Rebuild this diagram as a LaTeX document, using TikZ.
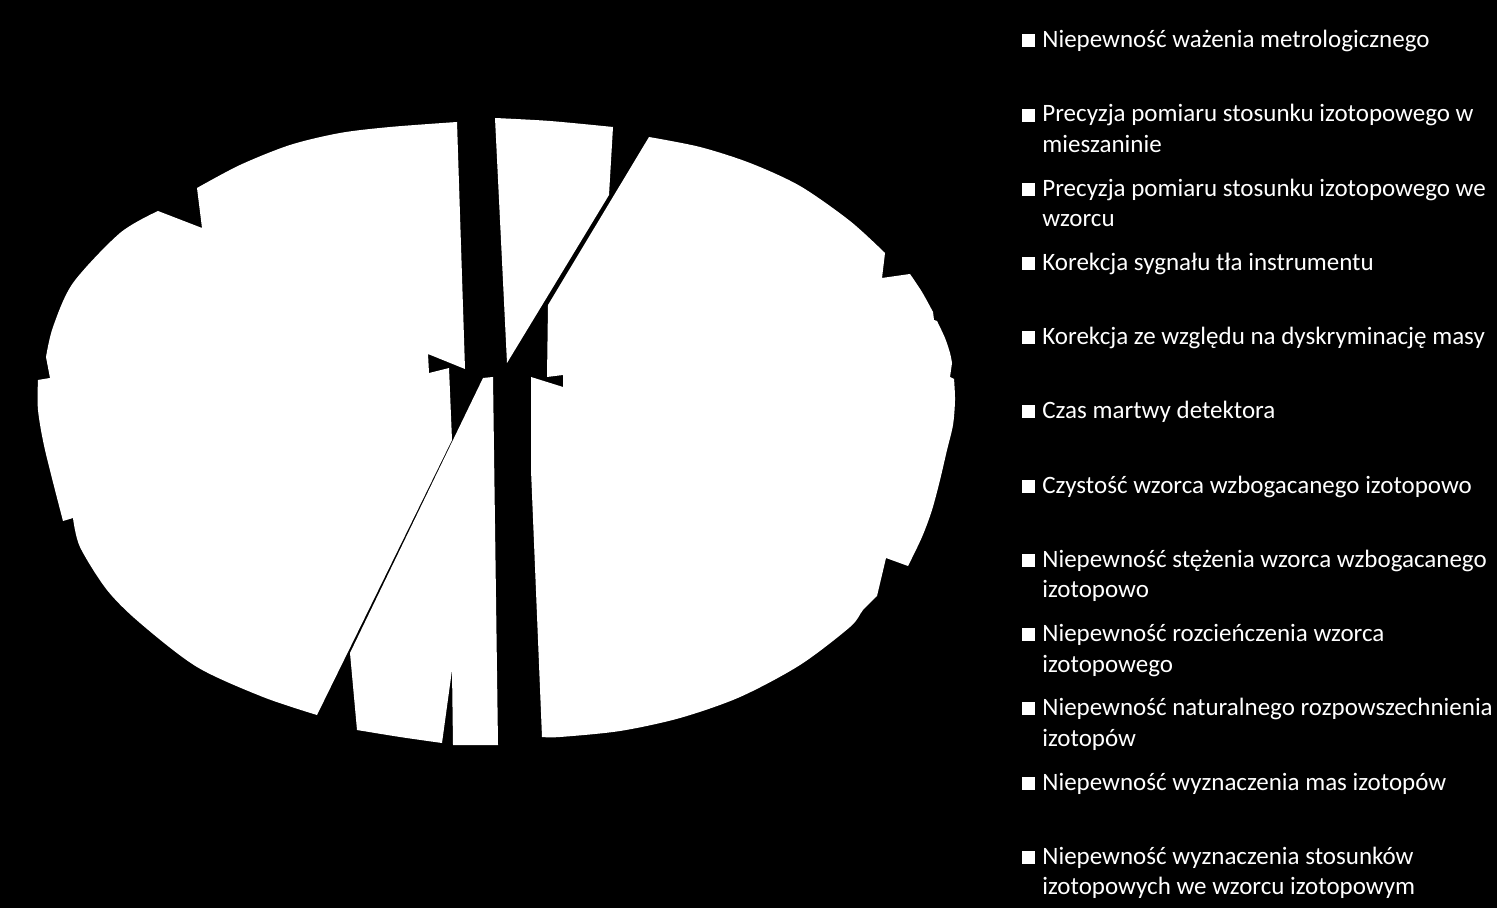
\documentclass[tikz,border=0pt]{standalone}
\usepackage{fontspec}
\setmainfont{Carlito}
\usetikzlibrary{positioning}

\begin{document}
\begin{tikzpicture}[x=0.5pt,y=-0.5pt,
  slice/.style={fill=white},
  legsq/.style={fill=white,inner sep=0pt,minimum size=6.5pt},
  legtxt/.style={anchor=base west,inner sep=0pt,text=white,font=\fontsize{12.5}{15}\selectfont}]
  \fill[black] (0,0) rectangle (1497,908);
  \useasboundingbox (0,0) rectangle (1497,908);

  %slice 1
  \fill[slice] (495,118) -- plot[smooth] coordinates {(495,118) (550,121) (613,127)}
    -- (609,195) -- (507,363) -- cycle;
  %slices 2-6
  \fill[slice] (649,137) -- plot[smooth] coordinates {(649,137) (700,147) (750,163) (800,186) (850,221) (885,253)}
    -- (882,278) -- plot[smooth] coordinates {(910,274) (922,292) (933,312)}
    -- (934,320) -- plot[smooth] coordinates {(937,321) (945,338) (950,353) (952,363)}
    -- (950,377) -- plot[smooth] coordinates {(954,379) (955,400) (953,425) (947,450) (940,480) (932,510) (922,537) (908,566)}
    -- (886,558) -- plot[smooth] coordinates {(877,596) (863,610) (850,627) (800,665) (740,697) (680,718) (620,731) (560,737) (542,737)}
    -- (531,470) -- (531,377) -- (563,387) -- (563,375) -- (547,377) -- (548,305) -- cycle;
  %slices 7-8
  \fill[slice] (483,378) -- (493,377) -- (498,745) -- (453,745) -- (452,670) -- (442,743)
    -- plot[smooth] coordinates {(442,743) (400,737) (357,730)} -- (350,653) -- cycle;
  %slices 9-12
  \fill[slice] (457,122) -- (465,369) -- (428,354) -- (429,373) -- (449,368) -- (452,440) -- (317,715)
    -- plot[smooth] coordinates {(317,715) (263,697) (197,667) (140,623) (107,590) (80,547) (73,518)}
    -- (63,521) -- plot[smooth] coordinates {(63,521) (45,450) (38,410) (38,380)}
    -- (50,378) -- plot[smooth] coordinates {(46,357) (53,327) (73,283) (120,233) (158,211)}
    -- (202,228) -- plot[smooth] coordinates {(197,188) (240,165) (290,145) (340,133) (390,127) (457,122)}
    -- cycle;

  %legend
  \foreach \k in {0,...,11}
    \node[legsq] (sq\k) at (1028.5,{41+74.2*\k}) {};
  \node[legtxt] (t1) at (1042,48) {Niepewność ważenia metrologicznego};
  \node[legtxt] (t2) at (1042,122) {Precyzja pomiaru stosunku izotopowego w};
  \node[legtxt] (t2b) at (1042,152.5) {mieszaninie};
  \node[legtxt] (t3) at (1042,196.4) {Precyzja pomiaru stosunku izotopowego we};
  \node[legtxt] (t3b) at (1042,226.9) {wzorcu};
  \node[legtxt] (t4) at (1042,270.6) {Korekcja sygnału tła instrumentu};
  \node[legtxt] (t5) at (1042,344.8) {Korekcja ze względu na dyskryminację masy};
  \node[legtxt] (t6) at (1042,419) {Czas martwy detektora};
  \node[legtxt] (t7) at (1042,493.2) {Czystość wzorca wzbogacanego izotopowo};
  \node[legtxt] (t8) at (1042,567.4) {Niepewność stężenia wzorca wzbogacanego};
  \node[legtxt] (t8b) at (1042,597.9) {izotopowo};
  \node[legtxt] (t9) at (1042,641.6) {Niepewność rozcieńczenia wzorca};
  \node[legtxt] (t9b) at (1042,672.1) {izotopowego};
  \node[legtxt] (t10) at (1042,715.8) {Niepewność naturalnego rozpowszechnienia};
  \node[legtxt] (t10b) at (1042,746.3) {izotopów};
  \node[legtxt] (t11) at (1042,790) {Niepewność wyznaczenia mas izotopów};
  \node[legtxt] (t12) at (1042,864.2) {Niepewność wyznaczenia stosunków};
  \node[legtxt] (t12b) at (1042,894.7) {izotopowych we wzorcu izotopowym};
\end{tikzpicture}
\end{document}
